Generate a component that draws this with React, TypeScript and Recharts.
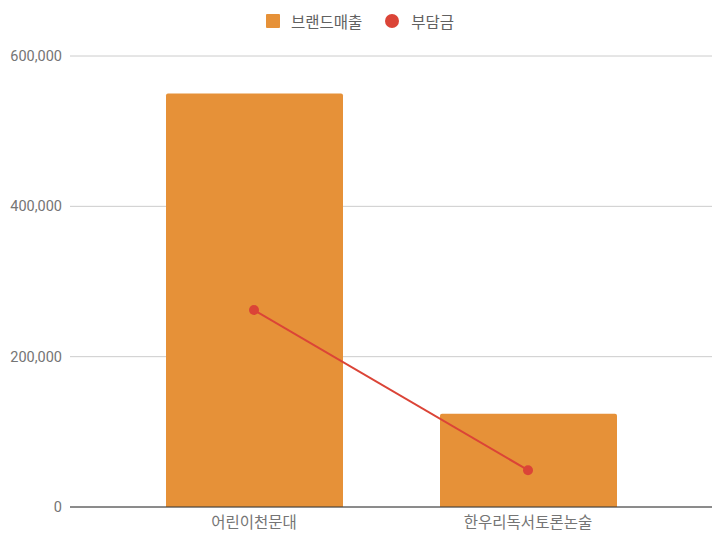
import { ComposedChart, Bar, Line, XAxis, YAxis, CartesianGrid, Legend } from "recharts"

const categories = ["어린이천문대", "한우리독서토론논술"]
const brandSales = [550000, 124000]
const burden = [262000, 49000]
const yTicks = [0, 200000, 400000, 600000]

const data = categories.map((name, i) => ({ name, sales: brandSales[i], burden: burden[i] }))

const font = "Roboto, 'Noto Sans CJK KR', sans-serif"

function ChartLegend() {
  return (
    <div style={{ display: "flex", justifyContent: "center", alignItems: "center", height: 20, fontFamily: font, fontSize: 15.5, color: "#616161", paddingLeft: 8 }}>
      <span style={{ width: 14, height: 14, background: "#e69138", borderRadius: 1, marginRight: 11 }} />
      <span style={{ marginRight: 23 }}>브랜드매출</span>
      <span style={{ width: 14, height: 14, background: "#db4437", borderRadius: "50%", marginRight: 12 }} />
      <span>부담금</span>
    </div>
  )
}

export default function App() {
  return (
    <div style={{ position: "absolute", left: 0, top: 0, width: 726, height: 540, background: "#fff" }}>
      <ComposedChart width={726} height={540} data={data} margin={{ top: 36, right: 14, bottom: 0, left: 0 }}>
        <Legend verticalAlign="top" height={20} content={ChartLegend} wrapperStyle={{ top: 11 }} />
        <CartesianGrid vertical={false} stroke="#cccccc" />
        <XAxis
          dataKey="name"
          height={33}
          padding={{ left: 47, right: 47 }}
          tickLine={false}
          axisLine={{ stroke: "#333333" }}
          tick={{ fill: "#757575", fontSize: 15.5, fontFamily: font }}
          tickMargin={4}
        />
        <YAxis
          width={70}
          domain={[0, 600000]}
          ticks={yTicks}
          axisLine={false}
          tickLine={false}
          tickFormatter={(v: number) => v.toLocaleString("en-US")}
          tick={{ fill: "#757575", fontSize: 14.5, fontFamily: font }}
          tickMargin={2}
        />
        <Bar dataKey="sales" name="브랜드매출" fill="#e69138" barSize={177} radius={[2, 2, 0, 0]} isAnimationActive={false} />
        <Line
          dataKey="burden"
          name="부담금"
          stroke="#db4437"
          strokeWidth={2}
          dot={{ r: 5, fill: "#db4437", stroke: "#db4437", strokeWidth: 0 }}
          activeDot={false}
          isAnimationActive={false}
        />
      </ComposedChart>
    </div>
  )
}
